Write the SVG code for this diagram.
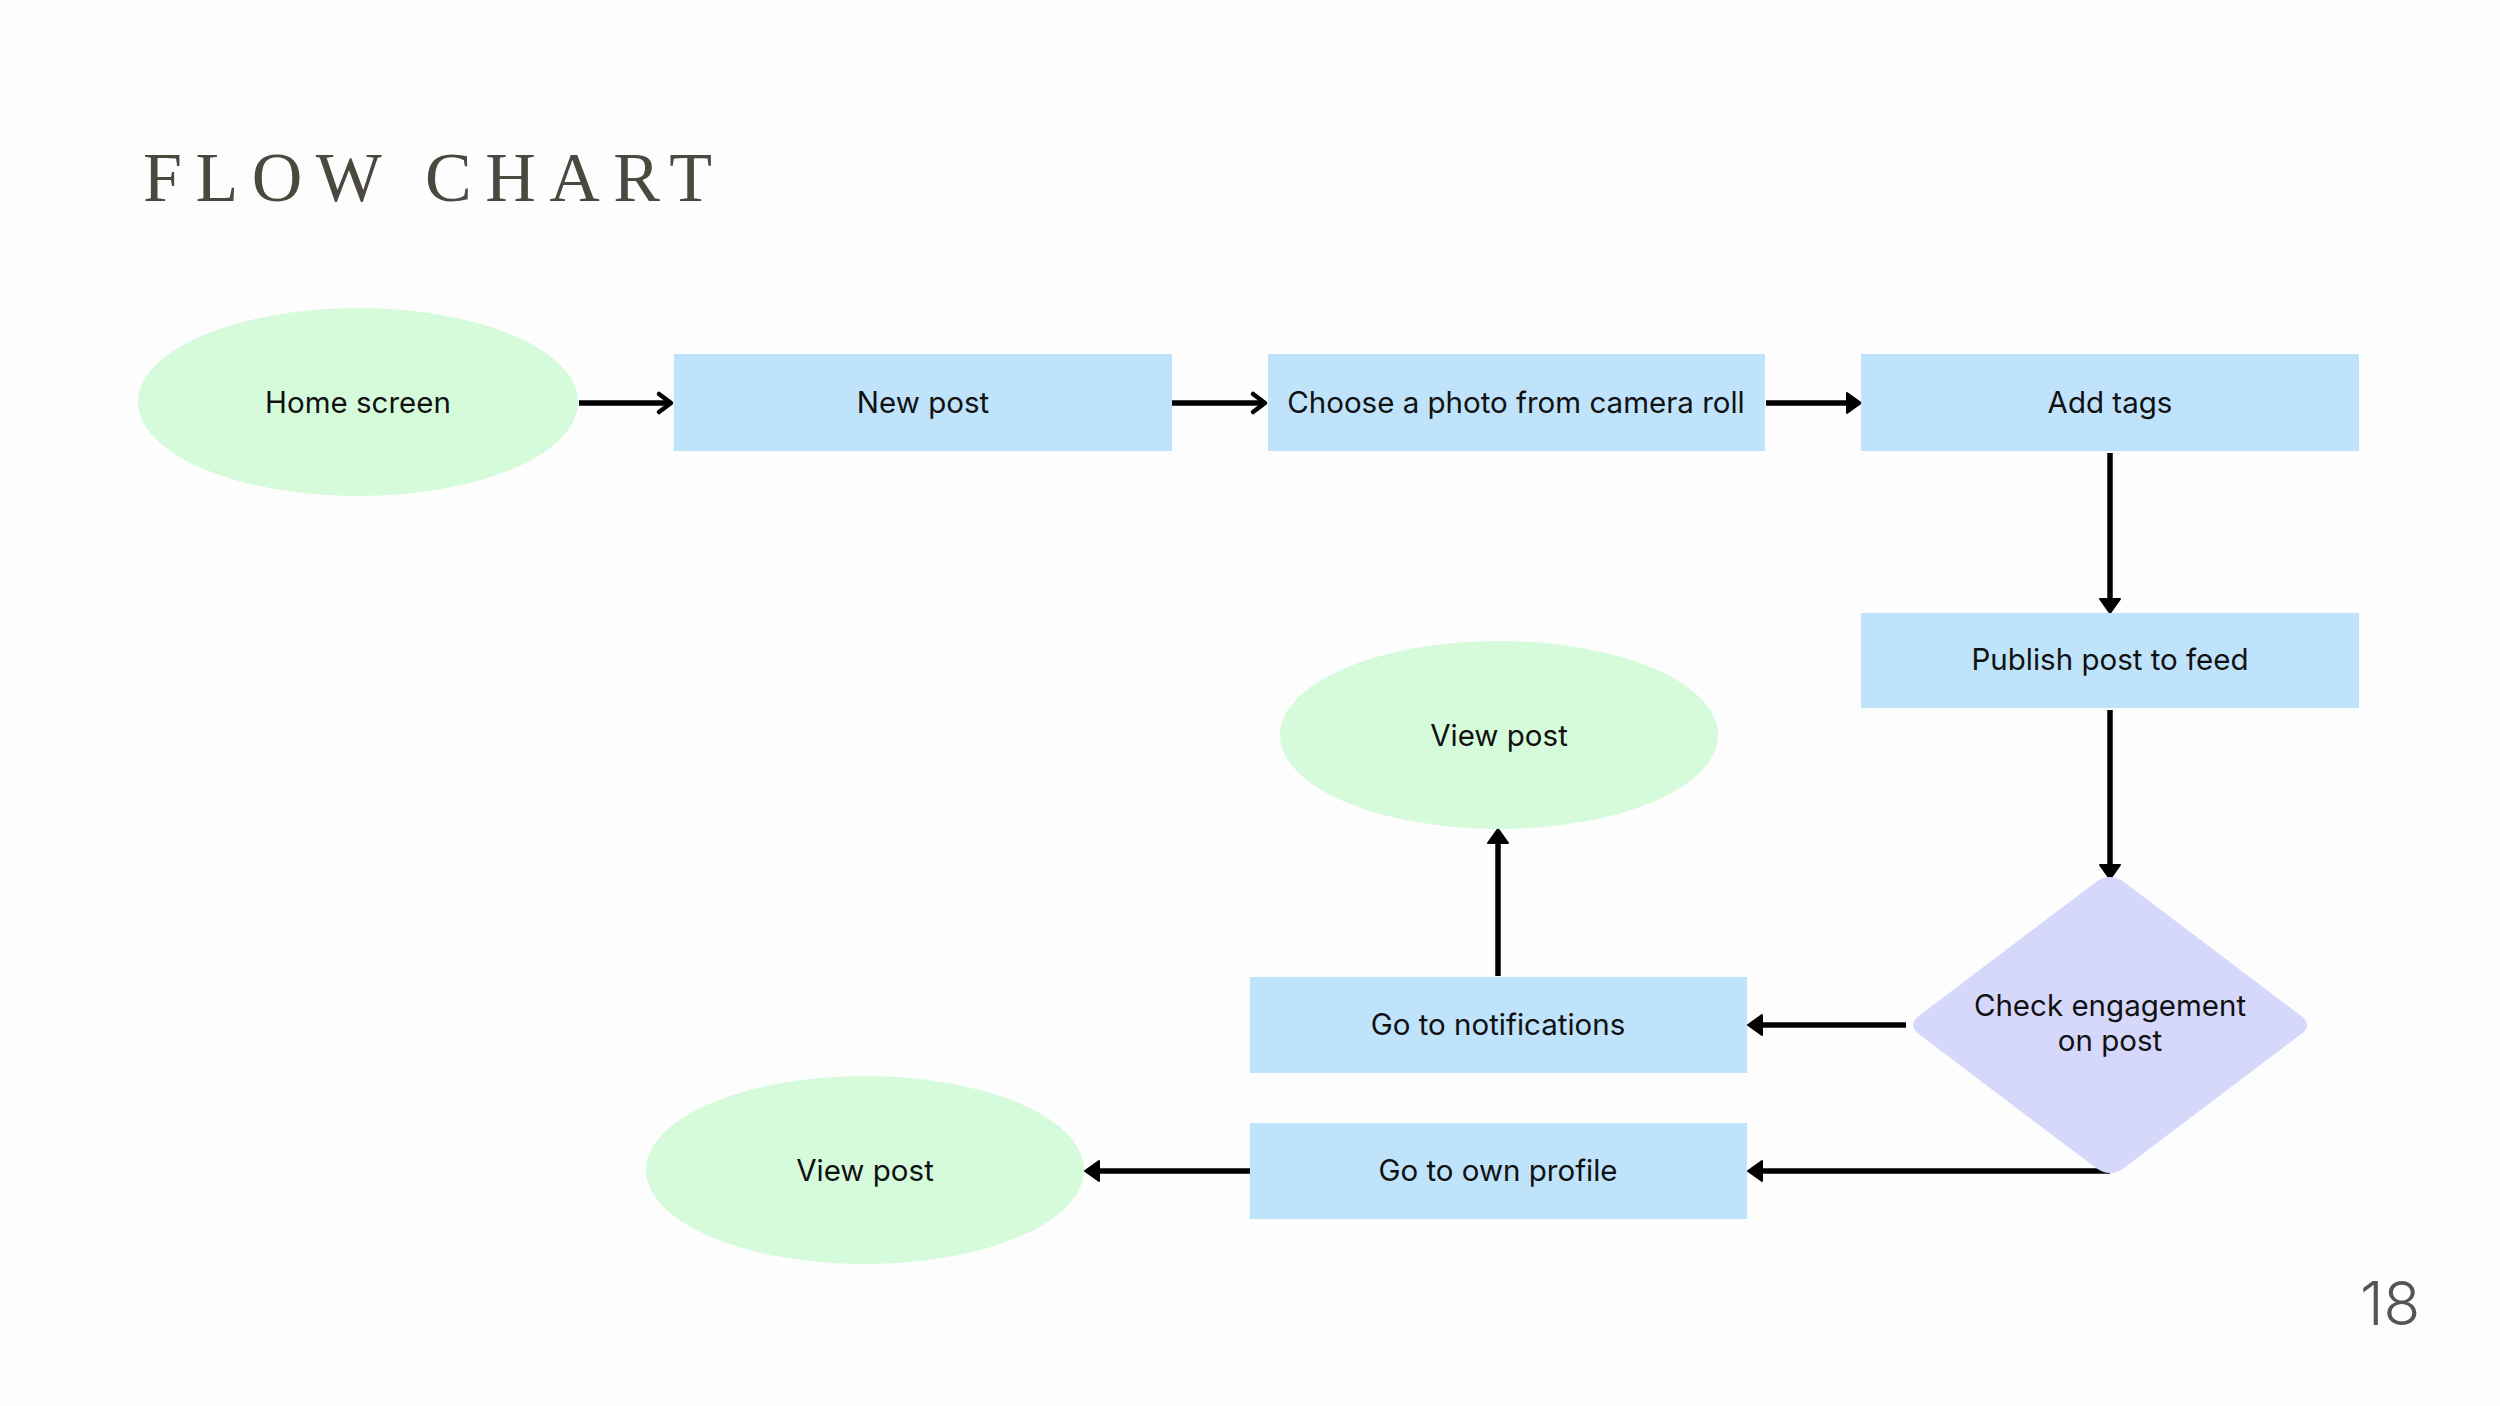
<svg xmlns="http://www.w3.org/2000/svg" width="2500" height="1406" viewBox="0 0 2500 1406">
<style>
.bg{fill:#fdfdfd}
.oval{fill:#d5fbdb}
.box{fill:#bee3fa}
.dia{fill:#d6d8fb}
.lbl{font-family:Inter,"Liberation Sans",sans-serif;font-size:29.5px;fill:#111;text-anchor:middle}
.title{font-family:"Liberation Serif",serif;font-size:70px;fill:#4b4840;letter-spacing:13.5px}
.pg{font-family:Inter,"Liberation Sans",sans-serif;font-weight:300;font-size:60px;fill:#555}
.ln{stroke:#000;stroke-width:5.5;fill:none}
</style>
<defs>
<marker id="tri" viewBox="0 0 14 20" refX="2" refY="10" markerWidth="14" markerHeight="20" markerUnits="userSpaceOnUse" orient="auto" overflow="visible">
<path d="M0,0 L14,10 L0,20 Z" fill="#000" stroke="#000" stroke-width="2" stroke-linejoin="round"/>
</marker>
<marker id="chev" viewBox="0 0 14 20" refX="12" refY="10" markerWidth="14" markerHeight="20" markerUnits="userSpaceOnUse" orient="auto" overflow="visible">
<path d="M1,1 L13,10 L1,19" fill="none" stroke="#000" stroke-width="4.5" stroke-linecap="round" stroke-linejoin="round"/>
</marker>
</defs>
<rect class="bg" x="0" y="0" width="2500" height="1406"/>
<text class="title" x="143" y="201">FLOW CHART</text>
<text class="pg" x="2360" y="1325">18</text>
<g id="connectors">
<line class="ln" x1="579" y1="403" x2="670" y2="403" marker-end="url(#chev)"/>
<line class="ln" x1="1172" y1="403" x2="1264" y2="403" marker-end="url(#chev)"/>
<line class="ln" x1="1766" y1="403" x2="1849" y2="403" marker-end="url(#tri)"/>
<line class="ln" x1="2110" y1="453" x2="2110" y2="601" marker-end="url(#tri)"/>
<line class="ln" x1="2110" y1="710" x2="2110" y2="867" marker-end="url(#tri)"/>
<line class="ln" x1="1906" y1="1025" x2="1760" y2="1025" marker-end="url(#tri)"/>
<line class="ln" x1="2110" y1="1171" x2="1760" y2="1171" marker-end="url(#tri)"/>
<line class="ln" x1="1498" y1="976" x2="1498" y2="841" marker-end="url(#tri)"/>
<line class="ln" x1="1250" y1="1171" x2="1097" y2="1171" marker-end="url(#tri)"/>
</g>
<g id="home-screen">
<ellipse class="oval" cx="358" cy="402" rx="220" ry="94"/>
<text class="lbl" x="358" y="413">Home screen</text>
</g>
<g id="new-post">
<rect class="box" x="674" y="354" width="498" height="97"/>
<text class="lbl" x="923" y="413">New post</text>
</g>
<g id="choose-photo">
<rect class="box" x="1268" y="354" width="497" height="97"/>
<text class="lbl" x="1516" y="413">Choose a photo from camera roll</text>
</g>
<g id="add-tags">
<rect class="box" x="1861" y="354" width="498" height="97"/>
<text class="lbl" x="2110" y="413">Add tags</text>
</g>
<g id="publish">
<rect class="box" x="1861" y="613" width="498" height="95"/>
<text class="lbl" x="2110" y="670">Publish post to feed</text>
</g>
<g id="check-engagement">
<path class="dia" d="M2096,882 Q2110,872 2124,882 L2300,1015 Q2314,1025 2300,1035 L2124,1168 Q2110,1178 2096,1168 L1920,1035 Q1906,1025 1920,1015 Z"/>
<text class="lbl" x="2110" y="1016">Check engagement</text>
<text class="lbl" x="2110" y="1051">on post</text>
</g>
<g id="notifications">
<rect class="box" x="1250" y="977" width="497" height="96"/>
<text class="lbl" x="1498" y="1035">Go to notifications</text>
</g>
<g id="own-profile">
<rect class="box" x="1250" y="1123" width="497" height="96"/>
<text class="lbl" x="1498" y="1181">Go to own profile</text>
</g>
<g id="view-post-top">
<ellipse class="oval" cx="1499" cy="735" rx="219" ry="94"/>
<text class="lbl" x="1499" y="746">View post</text>
</g>
<g id="view-post-bottom">
<ellipse class="oval" cx="865" cy="1170" rx="219" ry="94"/>
<text class="lbl" x="865" y="1181">View post</text>
</g>
</svg>
